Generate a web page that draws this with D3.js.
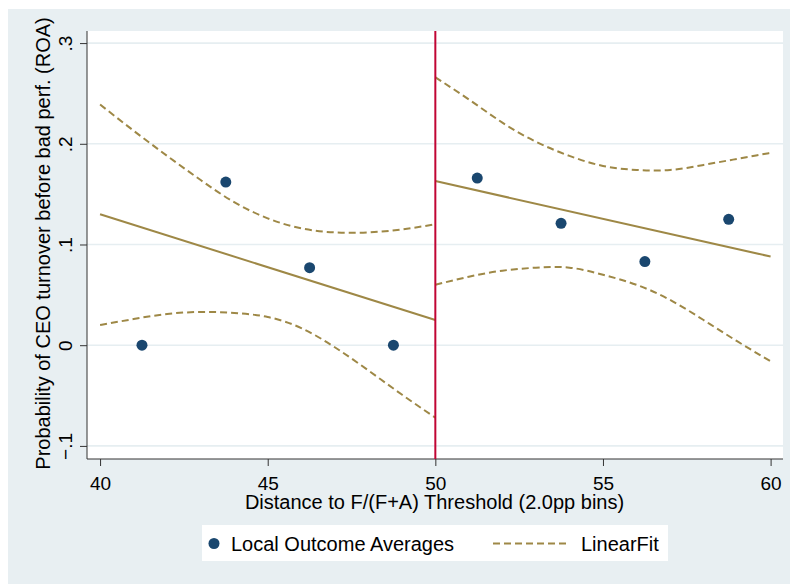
<!DOCTYPE html>
<html>
<head>
<meta charset="utf-8">
<script src="https://cdn.jsdelivr.net/npm/d3@7"></script>
<style>
  html, body { margin: 0; padding: 0; background: #fff; }
  svg { display: block; font-family: "Liberation Sans", Arial, Helvetica, sans-serif; }
</style>
</head>
<body>
<script>
// bin averages
const binX = [41.25, 43.75, 46.25, 48.75, 51.25, 53.75, 56.25, 58.75];
const binMean = [0, 0.162, 0.077, 0, 0.166, 0.121, 0.083, 0.125];

// linear fits on each side of the threshold
const leftFitX = [40, 50];
const leftFit = [0.130, 0.025];
const rightFitX = [50, 60];
const rightFit = [0.163, 0.088];

// confidence bands
const leftCiX = [40, 41, 42, 43, 44, 45, 46, 47, 48, 49, 50];
const leftUpper = [0.239, 0.213, 0.188, 0.164, 0.142, 0.126, 0.116, 0.112, 0.112, 0.115, 0.120];
const leftLower = [0.020, 0.026, 0.031, 0.033, 0.032, 0.028, 0.017, -0.002, -0.025, -0.049, -0.072];
const rightCiX = [50, 51, 52, 53, 54, 55, 56, 57, 58, 59, 60];
const rightUpper = [0.266, 0.244, 0.221, 0.202, 0.188, 0.178, 0.174, 0.174, 0.179, 0.185, 0.191];
const rightLower = [0.060, 0.068, 0.074, 0.077, 0.077, 0.070, 0.060, 0.045, 0.025, 0.004, -0.016];

const threshold = 50;
const xTicks = [40, 45, 50, 55, 60];
const yTicks = [-0.1, 0, 0.1, 0.2, 0.3];

const width = 791, height = 585;
const plot = { left: 87, right: 783, top: 31, bottom: 459 };

const navy = "#1a476f";
const khaki = "#9e8846";
const red = "#c10534";
const bg = "#e8eff2";

const svg = d3.select("body").append("svg")
    .attr("width", width)
    .attr("height", height);

svg.append("rect").attr("width", width).attr("height", height).attr("fill", "#fff");
svg.append("rect")
    .attr("x", 8).attr("y", 9)
    .attr("width", 782).attr("height", 575)
    .attr("fill", bg);
svg.append("rect")
    .attr("x", plot.left).attr("y", plot.top)
    .attr("width", plot.right - plot.left).attr("height", plot.bottom - plot.top)
    .attr("fill", "#fff");

const x = d3.scaleLinear().domain([39.61, 60.37]).range([plot.left, plot.right]);
const y = d3.scaleLinear().domain([-0.113, 0.312]).range([plot.bottom, plot.top]);

// gridlines
svg.append("g")
    .selectAll("line")
    .data(yTicks)
    .enter()
    .append("line")
    .attr("x1", plot.left).attr("x2", plot.right)
    .attr("y1", d => y(d)).attr("y2", d => y(d))
    .attr("stroke", "#e6eef1")
    .attr("stroke-width", 1.6);

// y axis
const yFmt = d => d === 0 ? "0" : d3.format(".1f")(d).replace("0.", ".");
const yAxis = svg.append("g")
    .attr("transform", `translate(${plot.left},0)`)
    .call(d3.axisLeft(y).tickValues(yTicks).tickFormat(yFmt).tickSize(7).tickSizeOuter(0));
yAxis.select(".domain").remove();
yAxis.append("line")
    .attr("x1", 0).attr("x2", 0)
    .attr("y1", plot.top).attr("y2", plot.bottom)
    .attr("stroke", "#333");
yAxis.selectAll(".tick line").attr("stroke", "#333");
yAxis.selectAll(".tick text")
    .attr("transform", "rotate(-90)")
    .attr("x", 0)
    .attr("y", -15.5)
    .attr("dy", 0)
    .attr("text-anchor", "middle")
    .attr("fill", "#000")
    .style("font-size", "19px")
    .style("font-family", "'Liberation Sans', Arial, sans-serif");

// x axis
const xAxis = svg.append("g")
    .attr("transform", `translate(0,${plot.bottom})`)
    .call(d3.axisBottom(x).tickValues(xTicks).tickFormat(d3.format("d")).tickSize(7).tickSizeOuter(0));
xAxis.select(".domain").remove();
xAxis.append("line")
    .attr("x1", plot.left).attr("x2", plot.right)
    .attr("y1", 0).attr("y2", 0)
    .attr("stroke", "#333");
xAxis.selectAll(".tick line").attr("stroke", "#333");
xAxis.selectAll(".tick text")
    .attr("y", 30.5)
    .attr("dy", 0)
    .attr("fill", "#000")
    .style("font-size", "19px")
    .style("font-family", "'Liberation Sans', Arial, sans-serif");

// axis titles
svg.append("text")
    .attr("x", (plot.left + plot.right) / 2 - 0.5)
    .attr("y", 509)
    .attr("text-anchor", "middle")
    .style("font-size", "20px")
    .text("Distance to F/(F+A) Threshold (2.0pp bins)");

svg.append("text")
    .attr("transform", "translate(50,243.5) rotate(-90)")
    .attr("text-anchor", "middle")
    .style("font-size", "20px")
    .text("Probability of CEO turnover before bad perf. (ROA)");

// bands and fits
const line = d3.line().x(d => x(d[0])).y(d => y(d[1]));
const curve = d3.line().x(d => x(d[0])).y(d => y(d[1])).curve(d3.curveNatural);

const bands = [
    d3.zip(leftCiX, leftUpper), d3.zip(leftCiX, leftLower),
    d3.zip(rightCiX, rightUpper), d3.zip(rightCiX, rightLower)
];
svg.append("g")
    .selectAll("path")
    .data(bands)
    .enter()
    .append("path")
    .attr("d", curve)
    .attr("fill", "none")
    .attr("stroke", khaki)
    .attr("stroke-width", 2)
    .attr("stroke-dasharray", "7,4");

svg.append("g")
    .selectAll("path")
    .data([d3.zip(leftFitX, leftFit), d3.zip(rightFitX, rightFit)])
    .enter()
    .append("path")
    .attr("d", line)
    .attr("fill", "none")
    .attr("stroke", khaki)
    .attr("stroke-width", 2);

// threshold line
svg.append("line")
    .attr("x1", x(threshold)).attr("x2", x(threshold))
    .attr("y1", plot.top).attr("y2", plot.bottom)
    .attr("stroke", red)
    .attr("stroke-width", 2);

// points
svg.append("g")
    .selectAll("circle")
    .data(d3.zip(binX, binMean))
    .enter()
    .append("circle")
    .attr("cx", d => x(d[0]))
    .attr("cy", d => y(d[1]))
    .attr("r", 5.5)
    .attr("fill", navy);

// legend
const legend = svg.append("g");
legend.append("rect")
    .attr("x", 202).attr("y", 525)
    .attr("width", 466).attr("height", 36)
    .attr("fill", "#fff");
legend.append("circle")
    .attr("cx", 214).attr("cy", 543.5)
    .attr("r", 5.5)
    .attr("fill", navy);
legend.append("text")
    .attr("x", 231).attr("y", 551)
    .style("font-size", "20px")
    .text("Local Outcome Averages");
legend.append("line")
    .attr("x1", 493).attr("x2", 568)
    .attr("y1", 543.5).attr("y2", 543.5)
    .attr("stroke", khaki)
    .attr("stroke-width", 2)
    .attr("stroke-dasharray", "7,4");
legend.append("text")
    .attr("x", 581).attr("y", 551)
    .style("font-size", "20px")
    .text("LinearFit");
</script>
</body>
</html>
